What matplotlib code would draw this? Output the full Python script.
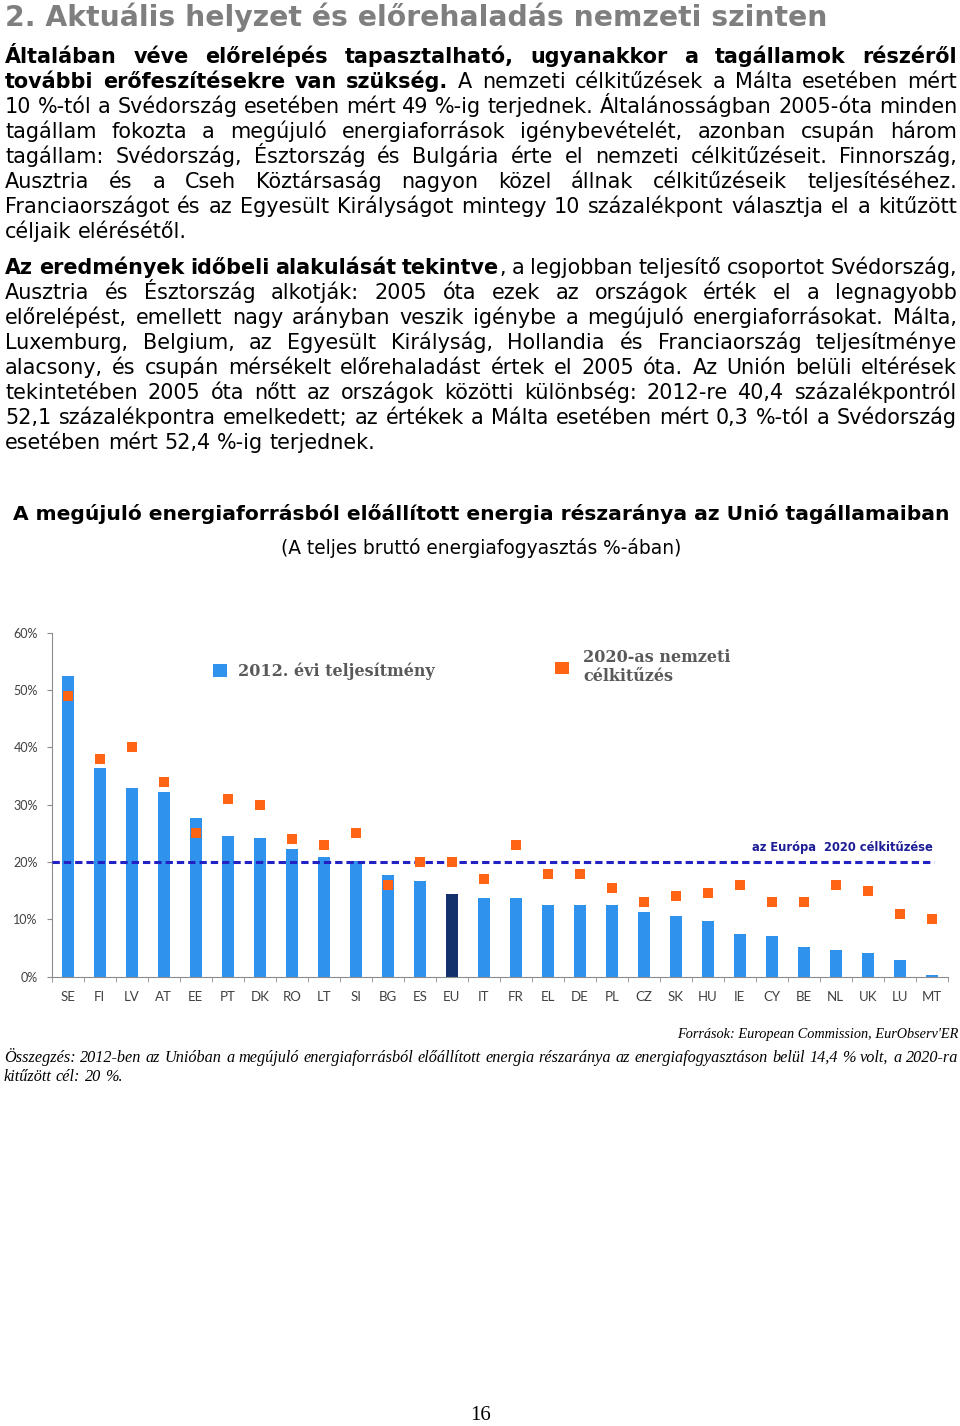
import numpy as np
import matplotlib.pyplot as plt
import matplotlib.transforms as mtransforms
from matplotlib.patches import Patch

W, H = 960, 1426

# chart data
countries = ['SE', 'FI', 'LV', 'AT', 'EE', 'PT', 'DK', 'RO', 'LT', 'SI', 'BG', 'ES', 'EU', 'IT',
             'FR', 'EL', 'DE', 'PL', 'CZ', 'SK', 'HU', 'IE', 'CY', 'BE', 'NL', 'UK', 'LU', 'MT']
share_2012 = [52.4, 36.4, 32.9, 32.2, 27.7, 24.6, 24.2, 22.2, 20.8, 20.2, 17.7, 16.7, 14.4, 13.8,
              13.7, 12.5, 12.5, 12.5, 11.3, 10.6, 9.8, 7.4, 7.1, 5.2, 4.6, 4.2, 3.0, 0.3]
target_2020 = [49, 38, 40, 34, 25, 31, 30, 24, 23, 25, 16, 20, 20, 17,
               23, 18, 18, 15.4, 13, 14, 14.6, 16, 13, 13, 16, 15, 11, 10]
eu_target_2020 = 20
y_ticks = [0, 10, 20, 30, 40, 50, 60]

# page texts
heading = '2. Aktuális helyzet és előrehaladás nemzeti szinten'
para1 = [
    '**Általában véve előrelépés tapasztalható, ugyanakkor a tagállamok részéről**',
    '**további erőfeszítésekre van szükség.** A nemzeti célkitűzések a Málta esetében mért',
    '10 %-tól a Svédország esetében mért 49 %-ig terjednek. Általánosságban 2005-óta minden',
    'tagállam fokozta a megújuló energiaforrások igénybevételét, azonban csupán három',
    'tagállam: Svédország, Észtország és Bulgária érte el nemzeti célkitűzéseit. Finnország,',
    'Ausztria és a Cseh Köztársaság nagyon közel állnak célkitűzéseik teljesítéséhez.',
    'Franciaországot és az Egyesült Királyságot mintegy 10 százalékpont választja el a kitűzött',
    'céljaik elérésétől.',
]
para2 = [
    '**Az eredmények időbeli alakulását tekintve**, a legjobban teljesítő csoportot Svédország,',
    'Ausztria és Észtország alkotják: 2005 óta ezek az országok érték el a legnagyobb',
    'előrelépést, emellett nagy arányban veszik igénybe a megújuló energiaforrásokat. Málta,',
    'Luxemburg, Belgium, az Egyesült Királyság, Hollandia és Franciaország teljesítménye',
    'alacsony, és csupán mérsékelt előrehaladást értek el 2005 óta. Az Unión belüli eltérések',
    'tekintetében 2005 óta nőtt az országok közötti különbség: 2012-re 40,4 százalékpontról',
    '52,1 százalékpontra emelkedett; az értékek a Málta esetében mért 0,3 %-tól a Svédország',
    'esetében mért 52,4 %-ig terjednek.',
]
chart_title = 'A megújuló energiaforrásból előállított energia részaránya az Unió tagállamaiban'
chart_subtitle = '(A teljes bruttó energiafogyasztás %-ában)'
source = "Források: European Commission, EurObserv'ER"
summary = [
    'Összegzés: 2012-ben az Unióban a megújuló energiaforrásból előállított energia részaránya '
    'az energiafogyasztáson belül 14,4 % volt, a 2020-ra',
    'kitűzött cél: 20 %.',
]

bar_blue = '#2F93EE'
eu_navy = '#14306C'
orange = '#FF6414'
line_blue = '#2222C4'
grey_txt = '#595959'
spine_col = '#8C8C8C'

fig = plt.figure(figsize=(W / 100, H / 100), dpi=100)
renderer = fig.canvas.get_renderer()


def fx(px):
    return px / W


def fy(py):
    return 1 - py / H


def text_width(s, **kw):
    t = fig.text(0, 0, s, **kw)
    w = t.get_window_extent(renderer).width
    t.remove()
    return w


def fit_size(s, width, **kw):
    return 10 * width / text_width(s, fontsize=10, **kw)


def split_words(line):
    # '**' toggles bold; returns words as lists of (text, bold) pieces
    words = []
    new_word = True
    for k, chunk in enumerate(line.split('**')):
        bold = k % 2 == 1
        for j, part in enumerate(chunk.split(' ')):
            if j > 0:
                new_word = True
            if part == '':
                continue
            if new_word or not words:
                words.append([(part, bold)])
            else:
                words[-1].append((part, bold))
            new_word = False
    return words


def draw_line(line, left, right, baseline, size, justify, **kw):
    words = split_words(line)
    widths = []
    for w in words:
        widths.append(sum(text_width(p, fontsize=size, fontweight='bold' if b else 'normal', **kw)
                          for p, b in w))
    space = text_width('a a', fontsize=size, **kw) - text_width('aa', fontsize=size, **kw)
    gap = (right - left - sum(widths)) / (len(words) - 1) if justify and len(words) > 1 else space
    x = left
    for w, ww in zip(words, widths):
        xx = x
        for p, b in w:
            wt = 'bold' if b else 'normal'
            fig.text(fx(xx), fy(baseline), p, fontsize=size, fontweight=wt, va='baseline', **kw)
            xx += text_width(p, fontsize=size, fontweight=wt, **kw)
        x += ww + gap


def paragraph(lines, first_baseline, size, leading=25, left=5, right=957, **kw):
    for i, line in enumerate(lines):
        draw_line(line, left, right, first_baseline + i * leading, size,
                  justify=i < len(lines) - 1, **kw)


# heading and body text
hs = fit_size(heading, 820, fontweight='bold')
fig.text(fx(5), fy(26), heading, fontsize=hs, fontweight='bold', color='#7F7F7F', va='baseline')

body = dict(family='DejaVu Sans', color='black')
bs = fit_size('esetében mért 52,4 %-ig terjednek.', 370, family='DejaVu Sans')
paragraph(para1, 63, bs, **body)
paragraph(para2, 274, bs, **body)

ts = fit_size(chart_title, 934, fontweight='bold')
fig.text(fx(481), fy(520), chart_title, fontsize=ts, fontweight='bold', ha='center', va='baseline')
ss = fit_size(chart_subtitle, 400)
fig.text(fx(481), fy(554), chart_subtitle, fontsize=ss, ha='center', va='baseline')

ital = dict(family='Liberation Serif', style='italic', color='black')
srs = fit_size(source, 282, family='Liberation Serif', style='italic')
fig.text(fx(958), fy(1038), source, fontsize=srs, ha='right', va='baseline', **ital)
sms = fit_size(summary[0], 950, family='Liberation Serif', style='italic')
paragraph(summary, 1062, sms, leading=19, left=4, right=958, **ital)

fig.text(fx(481), fy(1420), '16', fontsize=15, family='Liberation Serif', ha='center', va='baseline')

# chart
ax = fig.add_axes([fx(51.7), fy(976.7), 896 / W, 344 / H])
x = np.arange(len(countries))
colors = [eu_navy if c == 'EU' else bar_blue for c in countries]
bars = ax.bar(x, share_2012, width=0.375, color=colors, zorder=2)
ax.axhline(eu_target_2020, xmax=0.985, color=line_blue, lw=2.2, dashes=(2.4, 1.3), zorder=4)
ax.plot(x, target_2020, 's', color=orange, markersize=7.5, markeredgewidth=0, zorder=5)

trans = mtransforms.blended_transform_factory(ax.transAxes, ax.transData)
ax.text((933 - 51.7) / 896, 22.6, 'az Európa  2020 célkitűzése', transform=trans, ha='right',
        va='center', fontsize=8.3, fontweight='bold', color='#1C1C96', family='DejaVu Sans')

ax.set_xlim(-0.5, len(countries) - 0.5)
ax.set_ylim(0, 60)
ax.set_xticks(x)
ax.set_xticklabels(countries, family='Lato', fontsize=9.5, color='#404040')
ax.set_xticks(np.arange(len(countries) + 1) - 0.5, minor=True)
ax.tick_params(axis='x', which='major', length=0, pad=10)
ax.tick_params(axis='x', which='minor', length=3.5, color=spine_col)
ax.set_yticks(y_ticks)
ax.set_yticklabels([f'{v}%' for v in y_ticks], family='Lato', fontsize=9, color='#404040')
ax.tick_params(axis='y', length=3.5, pad=6.5, color=spine_col)
for s in ['top', 'right']:
    ax.spines[s].set_visible(False)
for s in ['left', 'bottom']:
    ax.spines[s].set_color(spine_col)

leg_font = dict(family='DejaVu Serif', weight='bold', size=11.5)
leg1 = ax.legend([Patch(facecolor=bar_blue)], ['2012. évi teljesítmény'], loc='center left',
                 bbox_to_anchor=(fx(213), fy(671)), bbox_transform=fig.transFigure,
                 frameon=False, borderpad=0, borderaxespad=0, handlelength=0.85,
                 handleheight=0.85, handletextpad=0.7, prop=leg_font, labelcolor=grey_txt)
ax.add_artist(leg1)
ax.legend([Patch(facecolor=orange)], ['2020-as nemzeti\ncélkitűzés'], loc='center left',
          bbox_to_anchor=(fx(555), fy(667)), bbox_transform=fig.transFigure,
          frameon=False, borderpad=0, borderaxespad=0, handlelength=0.85,
          handleheight=0.8, handletextpad=0.9, prop=leg_font, labelcolor=grey_txt)

fig.savefig('out.png', dpi=100)
